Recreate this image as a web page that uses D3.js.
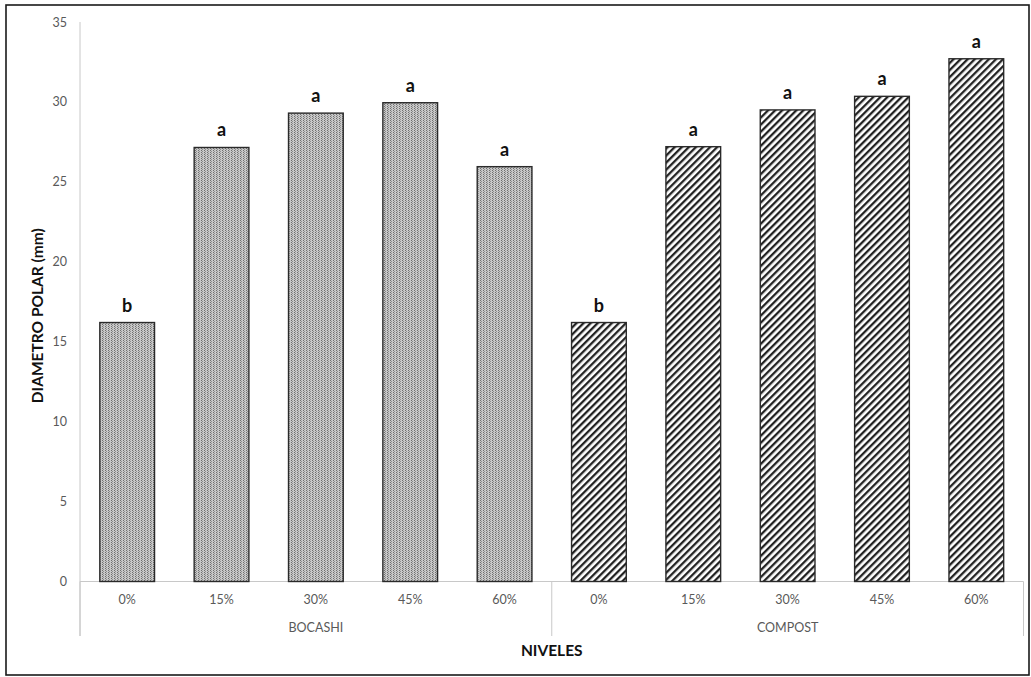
<!DOCTYPE html>
<html><head><meta charset="utf-8">
<script src="https://cdn.jsdelivr.net/npm/d3@7"></script>
<style>body{margin:0;background:#fff}</style>
</head><body>
<svg id="chart" width="1031" height="677"></svg>
<script>
const groups = ["BOCASHI", "COMPOST"];
const levels = ["0%", "15%", "30%", "45%", "60%"];
const bocashi = [16.2, 27.15, 29.3, 29.95, 25.95];
const compost = [16.2, 27.2, 29.5, 30.35, 32.7];
const bocashiLetters = ["b", "a", "a", "a", "a"];
const compostLetters = ["b", "a", "a", "a", "a"];
const yTicks = [0, 5, 10, 15, 20, 25, 30, 35];

const rows = [];
groups.forEach((g, gi) => {
  const vals = gi === 0 ? bocashi : compost;
  const lets = gi === 0 ? bocashiLetters : compostLetters;
  levels.forEach((l, i) => rows.push({key: g + "|" + l, group: g, level: l, value: vals[i], letter: lets[i]}));
});

const svg = d3.select("#chart");
const font = "Lato, 'Open Sans', sans-serif";
const mLeft = 80, mRight = 1023.5, mTop = 22, mBottom = 581.5;

const defs = svg.append("defs");
const p1 = defs.append("pattern").attr("id", "dots").attr("patternUnits", "userSpaceOnUse")
  .attr("width", 3).attr("height", 2);
p1.append("rect").attr("width", 3).attr("height", 2).attr("fill", "#c8c8c8");
p1.append("rect").attr("x", 0).attr("width", 1).attr("height", 1).attr("fill", "#6e6e6e");
p1.append("rect").attr("x", 1).attr("y", 1).attr("width", 1).attr("height", 1).attr("fill", "#8e8e8e");
const p2 = defs.append("pattern").attr("id", "hatch").attr("patternUnits", "userSpaceOnUse")
  .attr("width", 5).attr("height", 5).attr("patternTransform", "rotate(45)");
p2.append("rect").attr("width", 5).attr("height", 5).attr("fill", "#fff");
p2.append("rect").attr("x", 0).attr("width", 2.3).attr("height", 5).attr("fill", "#222");

svg.append("rect").attr("x", 6).attr("y", 5).attr("width", 1023).attr("height", 670)
  .attr("fill", "none").attr("stroke", "#1a1a1a").attr("stroke-width", 1.6);

const x = d3.scaleBand().domain(rows.map(d => d.key)).range([mLeft, mRight]).paddingInner(0.42).paddingOuter(0.21);
const xOuter = d3.scaleBand().domain(rows.map(d => d.key)).range([mLeft, mRight]);
const y = d3.scaleLinear().domain([0, 35]).range([mBottom, mTop]);

// y axis
const yAxis = svg.append("g").attr("transform", `translate(${mLeft},0)`)
  .call(d3.axisLeft(y).tickValues(yTicks).tickSize(0).tickPadding(13));
yAxis.select(".domain").remove();
yAxis.selectAll("text").attr("font-family", font).attr("font-size", 12.5).attr("fill", "#595959");
svg.append("line").attr("x1", mLeft).attr("x2", mLeft).attr("y1", mTop).attr("y2", 636)
  .attr("stroke", "#c8c8c8").attr("stroke-width", 1);

// x axis line
svg.append("line").attr("x1", mLeft).attr("x2", mRight).attr("y1", mBottom).attr("y2", mBottom)
  .attr("stroke", "#c8c8c8").attr("stroke-width", 1);
// group separators
const sepX = [mLeft, xOuter(groups[1] + "|" + levels[0]), mRight];
svg.selectAll(".sep").data(sepX).enter().append("line")
  .attr("x1", d => d).attr("x2", d => d).attr("y1", mBottom).attr("y2", 636)
  .attr("stroke", "#c8c8c8").attr("stroke-width", 1);

// bars
svg.selectAll(".bar").data(rows).enter().append("rect")
  .attr("x", d => x(d.key)).attr("width", x.bandwidth())
  .attr("y", d => y(d.value)).attr("height", d => y(0) - y(d.value))
  .attr("fill", d => d.group === groups[0] ? "url(#dots)" : "url(#hatch)")
  .attr("stroke", "#2a2a2a").attr("stroke-width", 1.4);

// letters
svg.selectAll(".let").data(rows).enter().append("text")
  .attr("x", d => x(d.key) + x.bandwidth() / 2).attr("y", d => y(d.value) - 11)
  .attr("text-anchor", "middle").attr("font-family", font).attr("font-weight", "bold")
  .attr("font-size", 18).attr("fill", "#111").text(d => d.letter);

// category labels
svg.selectAll(".cat").data(rows).enter().append("text")
  .attr("x", d => xOuter(d.key) + xOuter.bandwidth() / 2).attr("y", 604)
  .attr("text-anchor", "middle").attr("font-family", font).attr("font-size", 12.5)
  .attr("fill", "#595959").text(d => d.level);

// group labels
svg.selectAll(".grp").data(groups).enter().append("text")
  .attr("x", (d, i) => (sepX[i] + sepX[i + 1]) / 2).attr("y", 632)
  .attr("text-anchor", "middle").attr("font-family", font).attr("font-size", 12.5)
  .attr("fill", "#595959").text(d => d);

// axis titles
svg.append("text").attr("x", (mLeft + mRight) / 2).attr("y", 656)
  .attr("text-anchor", "middle").attr("font-family", font).attr("font-weight", "bold")
  .attr("font-size", 15.5).attr("fill", "#111").text("NIVELES");
svg.append("text").attr("transform", `translate(43,${(mTop + mBottom) / 2 + 14}) rotate(-90)`)
  .attr("text-anchor", "middle").attr("font-family", font).attr("font-weight", "bold")
  .attr("font-size", 15.5).attr("fill", "#111").text("DIAMETRO POLAR (mm)");
</script>
</body></html>
